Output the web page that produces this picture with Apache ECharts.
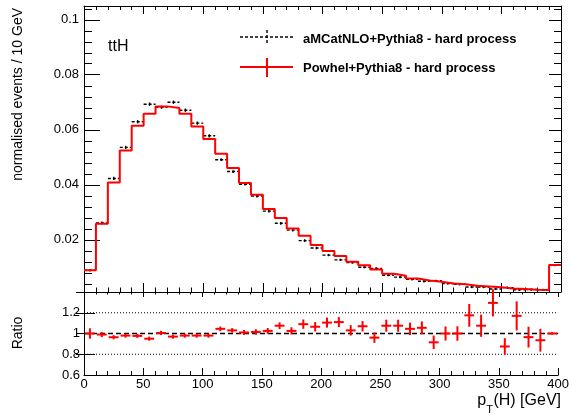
<!DOCTYPE html>
<html>
<head>
<meta charset="utf-8">
<script src="https://cdn.jsdelivr.net/npm/echarts@6/dist/echarts.min.js"></script>
<style>
html,body{margin:0;padding:0;background:#fff;}
#chart{width:572px;height:416px;}
</style>
</head>
<body>
<div id="chart"></div>
<script>
// ---- data ----
const binLow = [0,10,20,30,40,50,60,70,80,90,100,110,120,130,140,150,160,170,180,190,
                200,210,220,230,240,250,260,270,280,290,300,310,320,330,340,350,360,370,380,390];
const binWidth = 10;
const powheg = [0.0089,0.0258,0.0408,0.0525,0.0615,0.0658,0.0685,0.0679,0.0658,0.0612,
                0.0566,0.0513,0.0461,0.0406,0.0364,0.0312,0.0279,0.0241,0.0215,0.0181,
                0.0159,0.0141,0.0120,0.0107,0.0092,0.0076,0.0069,0.0059,0.0052,0.0047,
                0.0041,0.0038,0.0033,0.0030,0.0027,0.0023,0.0021,0.0018,0.0017,0.0108];
const amcatnlo = [0.0089,0.0261,0.0423,0.0536,0.0629,0.0693,0.0682,0.0700,0.0671,0.0624,
                  0.0578,0.0491,0.0448,0.0402,0.0359,0.0304,0.0260,0.0235,0.0197,0.0170,
                  0.0144,0.0127,0.0117,0.0100,0.0096,0.0071,0.0064,0.0056,0.0049,0.0051,
                  0.0041,0.0038,0.0028,0.0028,0.0021,0.0026,0.0018,0.0019,0.0018,0.0108];
const amcErr = [0.0004,0.0005,0.0006,0.0006,0.0006,0.0006,0.0006,0.0006,0.0006,0.0006,
                0.0006,0.0005,0.0005,0.0005,0.0005,0.0005,0.0005,0.0005,0.0005,0.0005,
                0.0004,0.0004,0.0004,0.0004,0.0004,0.0004,0.0004,0.0004,0.0004,0.0004,
                0.0004,0.0004,0.0004,0.0004,0.0004,0.0004,0.0004,0.0004,0.0004,0.0004];
const ratio = [1.00,0.99,0.964,0.98,0.977,0.95,1.005,0.97,0.98,0.98,
               0.98,1.045,1.03,1.01,1.015,1.025,1.075,1.025,1.09,1.065,
               1.105,1.11,1.03,1.07,0.96,1.075,1.075,1.045,1.055,0.915,
               1.0,1.0,1.175,1.075,1.295,0.875,1.17,0.965,0.935,1.0];
const ratioErr = [0.05,0.025,0.02,0.02,0.02,0.02,0.02,0.02,0.02,0.02,
                  0.02,0.022,0.022,0.024,0.026,0.028,0.032,0.035,0.045,0.045,
                  0.048,0.048,0.05,0.05,0.05,0.058,0.058,0.06,0.062,0.065,
                  0.068,0.07,0.11,0.107,0.13,0.08,0.14,0.1,0.11,0.01];
const topYTicks = [0.02,0.04,0.06,0.08,0.1];
const ratioYLabels = [0.6,0.8,1,1.2];
const ratioYTicks = [0.8,1,1.2,1.4];
const ratioRefLine = 1;
const ratioGuides = [0.8,1.2];
const xRange = [0,400];
const topYRange = [0.001,0.105];
const ratioYRange = [0.6,1.4];

// ---- helpers ----
const FONT = '"Liberation Sans", Arial, Helvetica, sans-serif';
const minorTop = [];
for (let k = 1; k <= 26; k++) { if (k % 5 !== 0) minorTop.push(Math.round(k*4)/1000); }

const stepPts = [];
binLow.forEach((lo,i)=>{ stepPts.push([lo, powheg[i]]); stepPts.push([lo+binWidth, powheg[i]]); });
const amcData = binLow.map((lo,i)=>[lo, lo+binWidth, amcatnlo[i], amcErr[i]]);
const ratioData = binLow.map((lo,i)=>[lo, lo+binWidth, ratio[i], ratioErr[i]]);

function renderAmc(params, api){
  const lo=api.value(0), hi=api.value(1), v=api.value(2), e=api.value(3);
  const a=api.coord([lo,v]), b=api.coord([hi,v]);
  const t=api.coord([(lo+hi)/2, v+e]), u=api.coord([(lo+hi)/2, v-e]);
  return {type:'group', children:[
    {type:'line', shape:{x1:a[0],y1:a[1],x2:b[0],y2:b[1]}, style:{stroke:'#000',lineWidth:1.4,lineDash:[3,2]}},
    {type:'line', shape:{x1:t[0],y1:t[1],x2:u[0],y2:u[1]}, style:{stroke:'#000',lineWidth:1.4}}
  ]};
}
function renderRatio(params, api){
  const lo=api.value(0), hi=api.value(1), v=api.value(2), e=api.value(3);
  const a=api.coord([lo,v]), b=api.coord([hi,v]);
  const t=api.coord([(lo+hi)/2, v+e]), u=api.coord([(lo+hi)/2, v-e]);
  return {type:'group', children:[
    {type:'line', shape:{x1:a[0]+1,y1:a[1],x2:b[0]-1,y2:b[1]}, style:{stroke:'#ff0000',lineWidth:2}},
    {type:'line', shape:{x1:t[0],y1:t[1],x2:u[0],y2:u[1]}, style:{stroke:'#ff0000',lineWidth:2}}
  ]};
}

const axLine = {show:true, lineStyle:{color:'#000', width:1}};
function xAx(grid, pos, tickLen, minorLen, labels){
  return {type:'value', gridIndex:grid, position:pos, min:xRange[0], max:xRange[1], interval:50,
    axisLine:axLine, splitLine:{show:false},
    axisTick:{show:true, inside:true, length:tickLen, lineStyle:{color:'#000'}},
    minorTick:{show:true, splitNumber:5, length:minorLen, lineStyle:{color:'#000'}},
    axisLabel: labels ? {show:true, color:'#000', fontSize:13, fontFamily:FONT, margin:3} : {show:false}
  };
}

// x-axis title layout (p_T(H) [GeV]) measured so the pieces sit together
const mctx = document.createElement('canvas').getContext('2d');
mctx.font = '16px ' + FONT;
const wRest = mctx.measureText('(H) [GeV]').width;
mctx.font = '11px ' + FONT;
const wSub = mctx.measureText('T').width;
const titleRight = 561;
const xRest = titleRight - wRest;
const xSub = xRest - wSub - 0.5;

const chart = echarts.init(document.getElementById('chart'), null, {renderer:'canvas'});
const option = {
  animation:false,
  backgroundColor:'#fff',
  grid:[
    {left:84, top:6, width:477, height:286},
    {left:84, top:292, width:477, height:83}
  ],
  xAxis:[
    xAx(0,'bottom',9,4.5,false),
    xAx(0,'top',8,4,false),
    xAx(1,'bottom',7,4,true),
    xAx(1,'top',5,2.5,false)
  ],
  yAxis:[
    {type:'value', gridIndex:0, position:'left', min:topYRange[0], max:topYRange[1],
      axisLine:axLine, splitLine:{show:false},
      axisTick:{show:true, inside:true, length:16, customValues:topYTicks, lineStyle:{color:'#000'}},
      axisLabel:{show:true, customValues:topYTicks, color:'#000', fontSize:13, fontFamily:FONT, margin:5,
                 formatter:v=>String(v)}},
    {type:'value', gridIndex:0, position:'left', min:topYRange[0], max:topYRange[1],
      axisLine:{show:false}, splitLine:{show:false}, axisLabel:{show:false},
      axisTick:{show:true, inside:true, length:8, customValues:minorTop, lineStyle:{color:'#000'}}},
    {type:'value', gridIndex:0, position:'right', min:topYRange[0], max:topYRange[1],
      axisLine:axLine, splitLine:{show:false}, axisLabel:{show:false},
      axisTick:{show:true, inside:true, length:12, customValues:topYTicks, lineStyle:{color:'#000'}}},
    {type:'value', gridIndex:0, position:'right', min:topYRange[0], max:topYRange[1],
      axisLine:{show:false}, splitLine:{show:false}, axisLabel:{show:false},
      axisTick:{show:true, inside:true, length:7, customValues:minorTop, lineStyle:{color:'#000'}}},
    {type:'value', gridIndex:1, position:'left', min:ratioYRange[0], max:ratioYRange[1],
      axisLine:axLine, splitLine:{show:false},
      axisTick:{show:true, inside:true, length:11, customValues:ratioYTicks, lineStyle:{color:'#000'}},
      axisLabel:{show:true, customValues:ratioYLabels, color:'#000', fontSize:13, fontFamily:FONT, margin:4,
                 formatter:v=>String(v)}},
    {type:'value', gridIndex:1, position:'right', min:ratioYRange[0], max:ratioYRange[1],
      axisLine:axLine, splitLine:{show:false}, axisLabel:{show:false},
      axisTick:{show:true, inside:true, length:8, customValues:ratioYTicks, lineStyle:{color:'#000'}}}
  ],
  series:[
    {type:'custom', name:'aMCatNLO+Pythia8 - hard process', xAxisIndex:0, yAxisIndex:0, z:2,
      renderItem:renderAmc, data:amcData, encode:{x:[0,1], y:2}},
    {type:'line', name:'Powhel+Pythia8 - hard process', xAxisIndex:0, yAxisIndex:0, z:3,
      data:stepPts, symbol:'none', lineStyle:{color:'#ff0000', width:2}, itemStyle:{color:'#ff0000'}},
    {type:'line', xAxisIndex:2, yAxisIndex:4, z:2, symbol:'none',
      data:[[xRange[0],ratioRefLine],[xRange[1],ratioRefLine]],
      lineStyle:{color:'#000', width:1.5, type:[5,3]}},
    {type:'line', xAxisIndex:2, yAxisIndex:4, z:2, symbol:'none',
      data:[[xRange[0],ratioGuides[0]],[xRange[1],ratioGuides[0]]],
      lineStyle:{color:'#000', width:1, type:[1,2]}},
    {type:'line', xAxisIndex:2, yAxisIndex:4, z:2, symbol:'none',
      data:[[xRange[0],ratioGuides[1]],[xRange[1],ratioGuides[1]]],
      lineStyle:{color:'#000', width:1, type:[1,2]}},
    {type:'custom', xAxisIndex:2, yAxisIndex:4, z:4, clip:false,
      renderItem:renderRatio, data:ratioData, encode:{x:[0,1], y:2}}
  ],
  graphic:[
    {type:'text', x:108, y:47, style:{text:'ttH', font:'16px '+FONT, fill:'#000', verticalAlign:'middle'}},
    // legend
    {type:'line', shape:{x1:240,y1:37,x2:293,y2:37}, style:{stroke:'#000', lineWidth:1.4, lineDash:[3,2]}},
    {type:'line', shape:{x1:267,y1:30,x2:267,y2:45}, style:{stroke:'#000', lineWidth:1.4, lineDash:[3,2]}},
    {type:'text', x:303, y:39, style:{text:'aMCatNLO+Pythia8 - hard process', font:'bold 13px '+FONT, fill:'#000', verticalAlign:'middle'}},
    {type:'line', shape:{x1:240,y1:67,x2:293,y2:67}, style:{stroke:'#ff0000', lineWidth:2}},
    {type:'line', shape:{x1:267,y1:58,x2:267,y2:77}, style:{stroke:'#ff0000', lineWidth:2}},
    {type:'text', x:303, y:68, style:{text:'Powhel+Pythia8 - hard process', font:'bold 13px '+FONT, fill:'#000', verticalAlign:'middle'}},
    // axis titles
    {type:'text', x:18, y:8, rotation:Math.PI/2, style:{text:'normalised events / 10 GeV', font:'14px '+FONT, fill:'#000', align:'right', verticalAlign:'middle'}},
    {type:'text', x:18, y:333, rotation:Math.PI/2, style:{text:'Ratio', font:'14px '+FONT, fill:'#000', align:'center', verticalAlign:'middle'}},
    {type:'text', x:titleRight, y:401, style:{text:'(H) [GeV]', font:'16px '+FONT, fill:'#000', align:'right', verticalAlign:'middle'}},
    {type:'text', x:xSub, y:401, style:{text:'p', font:'16px '+FONT, fill:'#000', align:'right', verticalAlign:'middle'}},
    {type:'text', x:xSub, y:410, style:{text:'T', font:'11px '+FONT, fill:'#000', align:'left', verticalAlign:'middle'}}
  ]
};
chart.setOption(option);
</script>
</body>
</html>
